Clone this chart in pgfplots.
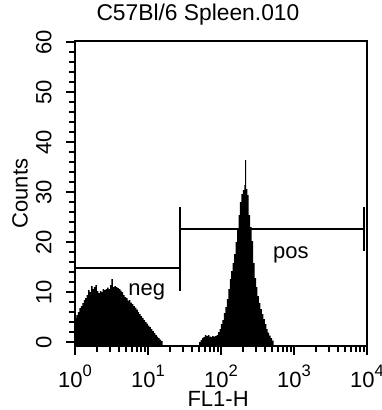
\documentclass[border=0pt]{standalone}
\usepackage{fontspec}
\setmainfont{Liberation Sans}
\usepackage{pgfplots}
\usepackage{pgfplotstable}
\pgfplotsset{compat=1.18}
\newcommand\sups[1]{\raisebox{0.52em}{\fontsize{8.3bp}{9bp}\selectfont #1}}

\pgfplotstableread{
x y
0.00 4.8
0.02 5.4
0.04 6.0
0.06 6.8
0.08 7.2
0.10 7.8
0.12 8.4
0.14 8.8
0.16 9.4
0.18 10.4
0.20 10.0
0.22 11.2
0.24 10.6
0.26 11.0
0.28 11.4
0.30 10.2
0.32 9.8
0.34 10.2
0.36 10.0
0.38 10.6
0.40 10.4
0.42 10.6
0.44 10.9
0.46 10.6
0.48 11.4
0.50 12.6
0.52 11.0
0.54 11.2
0.56 11.0
0.58 10.8
0.60 10.6
0.62 10.3
0.64 10.0
0.66 9.4
0.68 9.0
0.70 8.8
0.72 8.3
0.74 8.4
0.76 7.9
0.78 7.6
0.80 7.2
0.82 6.9
0.84 6.5
0.86 6.0
0.88 5.6
0.90 5.2
0.92 4.8
0.94 4.4
0.96 4.0
0.98 3.7
1.00 3.3
1.02 3.0
1.04 2.6
1.06 2.2
1.08 1.8
1.10 1.4
1.12 1.1
1.14 0.8
1.16 0.5
1.18 0.2
1.20 0
}\negdata

\pgfplotstableread{
x y
1.70 0
1.72 0.4
1.74 0.8
1.76 1.0
1.78 1.4
1.80 1.2
1.82 1.4
1.84 1.1
1.86 1.0
1.88 1.2
1.90 1.1
1.92 1.2
1.94 1.4
1.96 2.0
1.98 2.6
2.00 3.6
2.02 4.4
2.04 5.8
2.06 7.0
2.08 8.6
2.10 10.6
2.12 12.6
2.14 14.2
2.16 15.8
2.18 17.6
2.20 20.0
2.22 22.6
2.24 25.4
2.26 28.0
2.28 29.6
2.30 30.4
2.32 31.4
2.33 36.4
2.345 30.6
2.36 29.4
2.38 25.4
2.40 23.0
2.42 20.2
2.44 15.8
2.46 12.8
2.48 11.0
2.50 9.2
2.52 7.8
2.54 6.6
2.56 5.6
2.58 4.6
2.60 3.6
2.62 2.6
2.64 1.9
2.66 1.3
2.68 0.8
2.70 0.3
2.72 0
}\posdata

\begin{document}
\fontsize{11bp}{13bp}\selectfont
\begin{tikzpicture}
\begin{axis}[
  at={(0,0)}, anchor=south west,
  scale only axis, width=146bp, height=152.5bp,
  xmin=0, xmax=4, ymin=-0.8, ymax=60.2,
  axis line style={line width=1.2bp},
  xtick={0,1,2,3,4},
  xticklabels={10\sups{0},10\sups{1},10\sups{2},10\sups{3},10\sups{4}},
  minor xtick={0.301,0.477,0.602,0.699,0.778,0.845,0.903,0.954,
               1.301,1.477,1.602,1.699,1.778,1.845,1.903,1.954,
               2.301,2.477,2.602,2.699,2.778,2.845,2.903,2.954,
               3.301,3.477,3.602,3.699,3.778,3.845,3.903,3.954},
  ytick={0,10,20,30,40,50,60},
  minor ytick={2,4,6,8,12,14,16,18,22,24,26,28,32,34,36,38,42,44,46,48,52,54,56,58},
  /pgf/number format/assume math mode=true,
  tick align=outside, xtick pos=lower, ytick pos=left,
  major tick length=4.5bp, minor tick length=3bp,
  every tick/.style={line width=1bp, black},
  xticklabel style={anchor=base, inner sep=0pt},
  xticklabel shift=16.3bp,
  yticklabel style={rotate=90, anchor=south, inner sep=0pt},
  yticklabel shift=7bp,
  title={C57Bl/6 Spleen.010},
  title style={at={(axis description cs:0.421,1.0295)}, anchor=base, inner sep=0pt, font=\fontsize{11.4bp}{13bp}\selectfont},
  xlabel={FL1-H},
  xlabel style={at={(axis description cs:0.49,-0.2)}, anchor=base, inner sep=0pt},
  ylabel={Counts},
  ylabel style={at={(axis description cs:-0.188,0.5)}, anchor=center, inner sep=0pt},
]
\addplot[fill=black, draw=none, const plot] table[x=x,y=y] {\negdata} |- (axis cs:0,-0.8) -- cycle;
\addplot[fill=black, draw=none, const plot] table[x=x,y=y] {\posdata} |- (axis cs:1.70,-0.8) -- cycle;
\addplot[black, line width=1bp] coordinates {(0,14.8) (1.438,14.8)};
\addplot[black, line width=1bp] coordinates {(0,10.3) (0,19.3)};
\addplot[black, line width=1bp] coordinates {(1.438,10.3) (1.438,19.3)};
\addplot[black, line width=1bp] coordinates {(1.438,22.6) (3.96,22.6)};
\addplot[black, line width=1bp] coordinates {(1.438,18.2) (1.438,27)};
\addplot[black, line width=1bp] coordinates {(3.96,18.2) (3.96,27)};
\node[anchor=base west, inner sep=0pt] at (axis cs:0.726,9.4) {neg};
\node[anchor=base west, inner sep=0pt] at (axis cs:2.71,16.8) {pos};
\end{axis}
\pgfresetboundingbox
\path[use as bounding box] (-37.5bp,-32bp) rectangle (153.5bp,173bp);
\end{tikzpicture}
\end{document}
